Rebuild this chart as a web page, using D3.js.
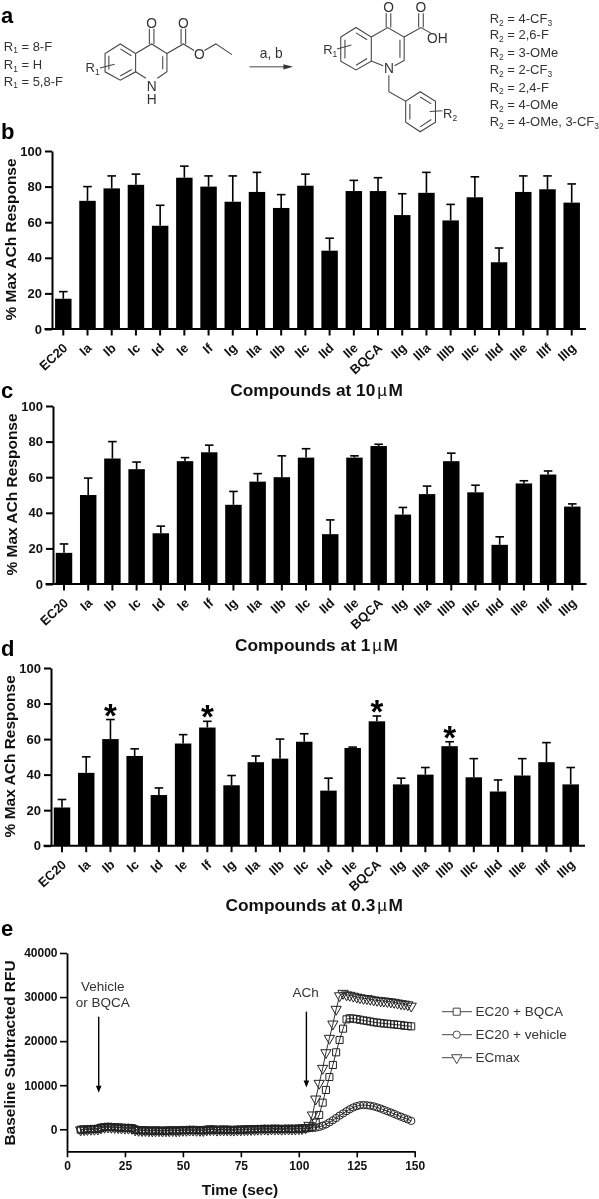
<!DOCTYPE html>
<html><head><meta charset="utf-8">
<script src="https://cdn.jsdelivr.net/npm/d3@7"></script>
<style>
html,body{margin:0;padding:0;background:#fff}
svg{display:block;filter:blur(0.35px)}
text{font-family:"Liberation Sans",Arial,sans-serif}
</style></head><body>
<svg id="c" width="599" height="1199"></svg>
<script>
const categories=["EC20","Ia","Ib","Ic","Id","Ie","If","Ig","IIa","IIb","IIc","IId","IIe","BQCA","IIg","IIIa","IIIb","IIIc","IIId","IIIe","IIIf","IIIg"];
const yTicks=[0,20,40,60,80,100];
const b10=[17,72,79,81,58,85,80,71.5,77,68,80.5,44,77.5,77.5,64,76.5,61,74,37.5,77,78.5,71];
const e10=[21,80,86,87,69.5,91.5,86,86,88,75.5,87,51,83.5,85,76,88,70,85.5,45.5,86,86,81.5];
const b1=[17.5,50,70.5,64.5,28.5,69,74,44.5,57.5,60,71,28,71,77.5,39,50.5,69,51.5,22,56.5,61.5,43.5];
const e1=[22.5,59.5,80,68.5,32.5,71,78,52,62,72,76,36,72,78.5,43,55,73.5,55.5,26.5,58,63.5,45];
const b03=[21.5,41,60,50.5,28.5,57.5,66.5,34,47,49,58.5,31,55,70,34.5,40,56,38.5,30.5,39.5,47,34.5];
const e03=[26,50,71,54.5,32.5,62.5,70,39.5,50.5,60,63,38,55.5,73,38,44,58.5,49,37,49,58,44];
const starred=["Ib","If","BQCA","IIIb"];

const timeSec=[5.9,7.4,8.8,10.3,11.8,13.3,14.7,16.2,17.7,19.1,
20.6,22.1,23.5,25,26.5,28,29.4,30.9,32.4,33.8,
35.3,36.8,38.2,39.7,41.2,42.7,44.1,45.6,47.1,48.5,
50,51.5,52.9,54.4,55.9,57.4,58.8,60.3,61.8,63.2,
64.7,66.2,67.6,69.1,70.6,72,73.5,75,76.5,77.9,
79.4,80.9,82.3,83.8,85.3,86.7,88.2,89.7,91.2,92.6,
94.1,95.6,97,98.5,100,101.4,102.9,104.4,105.9,107.3,
108.8,110.3,111.7,113.2,114.7,116.1,117.6,119.1,120.6,122,
123.5,125,126.4,127.9,129.4,130.8,132.3,133.8,135.3,136.7,
138.2,139.7,141.1,142.6,144.1,145.5,147,148.5];
const rfuBQCA=[-100,-50,0,50,50,100,350,500,550,500,
450,400,350,300,300,250,-100,-200,-250,-250,
-300,-300,-300,-300,-350,-300,-300,-250,-300,-250,
-200,-200,-150,-150,-200,-200,-250,-100,-50,-50,
-150,-100,-100,-100,-150,-150,-100,-100,-50,-50,
0,0,50,50,100,50,100,100,100,50,
100,100,100,100,150,150,200,300,600,1500,
3250,6040,8920,11860,14590,17460,20260,22830,24950,25200,
25100,25000,24850,24700,24600,24450,24300,24200,24100,24000,
23950,23850,23800,23700,23650,23500,23450,23350];
const rfuVehicle=[-50,0,50,100,100,150,400,550,600,550,
500,450,400,350,350,300,-50,-150,-200,-200,
-250,-250,-250,-250,-300,-250,-250,-200,-250,-200,
-150,-150,-100,-100,-150,-150,-200,-50,0,0,
-100,-50,-50,-50,-100,-100,-50,-50,0,0,
50,50,100,100,150,100,150,150,150,100,
150,150,150,150,200,200,250,250,300,350,
500,800,1100,1550,2050,2550,3100,3600,4100,4550,
4950,5250,5450,5500,5450,5350,5200,4950,4700,4400,
4100,3800,3500,3150,2850,2550,2250,1900];
const rfuECmax=[-150,-100,-50,0,0,50,300,450,500,450,
400,350,300,250,250,200,-150,-250,-300,-300,
-350,-350,-350,-350,-400,-350,-350,-300,-350,-300,
-250,-250,-200,-200,-250,-250,-300,-150,-100,-100,
-200,-150,-150,-150,-200,-200,-150,-150,-100,-100,
-50,-50,0,0,50,0,50,50,50,0,
50,50,50,50,100,150,300,900,3250,6870,
10430,13830,17380,20640,23890,27220,30300,30850,30500,30400,
30200,30000,29850,29700,29650,29500,29350,29250,29150,29100,
29000,28900,28800,28650,28500,28400,28250,27950];
const eXTicks=[0,25,50,75,100,125,150];
const eYTicks=[0,10000,20000,30000,40000];
const legendNames=["EC20 + BQCA","EC20 + vehicle","ECmax"];

const svg=d3.select("#c");
const INK="#111", GREY="#333";

function panelLetter(t,x,y){svg.append("text").attr("x",x).attr("y",y).attr("font-size",22).attr("font-weight","bold").attr("fill","#000").text(t);}
panelLetter("a",1,23);panelLetter("b",1,139);panelLetter("c",1,398);panelLetter("d",1,656);panelLetter("e",1,936);

function barPanel(o){
  const g=svg.append("g");
  const step=(o.cxN-o.cx0)/(categories.length-1);
  const x=d3.scaleBand().domain(categories).range([o.cx0-step/2,o.cxN+step/2]).paddingInner(0.32).paddingOuter(0.16);
  const y=d3.scaleLinear().domain([0,100]).range([o.y0,o.y100]);
  const vals=categories.map((c,i)=>({c,v:o.bars[i],e:o.errs[i]}));
  const cx=d=>x(d.c)+x.bandwidth()/2;
  g.selectAll("line.eb").data(vals).join("line").attr("x1",cx).attr("x2",cx).attr("y1",d=>y(d.v)).attr("y2",d=>y(d.e)).attr("stroke","#000").attr("stroke-width",1.6);
  g.selectAll("line.cap").data(vals).join("line").attr("class","cap").attr("x1",d=>cx(d)-4.3).attr("x2",d=>cx(d)+4.3).attr("y1",d=>y(d.e)).attr("y2",d=>y(d.e)).attr("stroke","#000").attr("stroke-width",1.6);
  g.selectAll("rect").data(vals).join("rect").attr("x",d=>x(d.c)).attr("width",x.bandwidth()).attr("y",d=>y(d.v)).attr("height",d=>o.y0-y(d.v)).attr("fill","#000");
  const ax=g.append("g").attr("transform",`translate(0,${o.y0})`).call(d3.axisBottom(x).tickSize(6.5).tickPadding(4));
  ax.select(".domain").attr("d",`M${o.ax-7.5},0H${o.xEnd}`).attr("stroke","#000").attr("stroke-width",2);
  ax.selectAll(".tick line").attr("stroke","#000").attr("stroke-width",2);
  ax.selectAll(".tick text").attr("font-family","Liberation Sans").attr("font-size",13).attr("font-weight","bold").attr("fill",INK)
    .attr("text-anchor","end").attr("dy",0).attr("y",0).attr("transform","translate(5,20) rotate(-43)");
  const ay=g.append("g").attr("transform",`translate(${o.ax},0)`).call(d3.axisLeft(y).tickValues(yTicks).tickSize(7).tickPadding(3).tickSizeOuter(0));
  ay.select(".domain").attr("stroke","#000").attr("stroke-width",2);
  ay.selectAll(".tick line").attr("stroke","#000").attr("stroke-width",2);
  ay.selectAll(".tick text").attr("font-family","Liberation Sans").attr("font-size",13).attr("font-weight","bold").attr("fill",INK);
  g.append("text").attr("transform",`translate(${o.ax-36},${(o.y0+o.y100)/2-0.5}) rotate(-90)`).attr("text-anchor","middle").attr("font-size",15.5).attr("font-weight","bold").attr("fill",INK).text("% Max ACh Response");
  if(o.stars){
    g.selectAll("text.star").data(vals.filter(d=>starred.includes(d.c))).join("text").attr("class","star")
      .attr("x",cx).attr("y",d=>y(d.e)+7).attr("text-anchor","middle").attr("font-size",33).attr("font-weight","bold").attr("fill","#000").text("*");
  }
  const t=svg.append("text").attr("x",o.titleEnd).attr("y",o.titleY).attr("text-anchor","end").attr("font-size",17.3).attr("font-weight","bold").attr("fill",INK);
  t.append("tspan").text("Compounds at "+o.conc);
  t.append("tspan").attr("dx",2).attr("font-weight","normal").attr("font-size",17).text("µ");
  t.append("tspan").attr("dx",1.5).text("M");
}
barPanel({bars:b10,errs:e10,cx0:63.3,cxN:571.7,y0:329,y100:151,ax:52,xEnd:586,conc:"10",titleEnd:403,titleY:396});
barPanel({bars:b1,errs:e1,cx0:64,cxN:572.3,y0:584,y100:406,ax:53,xEnd:586.5,conc:"1",titleEnd:398,titleY:651});
barPanel({bars:b03,errs:e03,cx0:62,cxN:570.7,y0:845.7,y100:668,ax:51,xEnd:585,conc:"0.3",titleEnd:403,titleY:911,stars:true});

// panel e
const ex=d3.scaleLinear().domain([0,150]).range([67,414.7]);
const ey=d3.scaleLinear().domain([-5000,40000]).range([1151.3,953]);
const eg=svg.append("g");
const axE=eg.append("g").attr("transform","translate(0,1151.3)").call(d3.axisBottom(ex).tickValues(eXTicks).tickFormat(d3.format("d")).tickSize(6).tickPadding(4).tickSizeOuter(0));
const ayE=eg.append("g").attr("transform","translate(67,0)").call(d3.axisLeft(ey).tickValues(eYTicks).tickFormat(d3.format("d")).tickSize(7).tickPadding(2.5).tickSizeOuter(0));
[axE,ayE].forEach(a=>{a.select(".domain").attr("stroke","#000").attr("stroke-width",1.8);
  a.selectAll(".tick line").attr("stroke","#000").attr("stroke-width",1.6);
  a.selectAll(".tick text").attr("font-family","Liberation Sans").attr("font-size",12).attr("font-weight","bold").attr("fill",INK);});
eg.append("text").attr("transform","translate(14.5,1053) rotate(-90)").attr("text-anchor","middle").attr("font-size",15.5).attr("font-weight","bold").attr("fill",INK).text("Baseline Subtracted RFU");
eg.append("text").attr("x",240).attr("y",1195).attr("text-anchor","middle").attr("font-size",15.5).attr("font-weight","bold").attr("fill",INK).text("Time (sec)");

const symSquare=d3.symbol().type(d3.symbolSquare).size(50)();
const symCircle=d3.symbol().type(d3.symbolCircle).size(42)();
const symTri=d3.symbol().type(d3.symbolTriangle).size(46)();
const series=[
 {name:legendNames[0],vals:rfuBQCA,sym:symSquare,rot:0},
 {name:legendNames[1],vals:rfuVehicle,sym:symCircle,rot:0},
 {name:legendNames[2],vals:rfuECmax,sym:symTri,rot:180}];
const line=d3.line().x(d=>ex(d[0])).y(d=>ey(d[1]));
series.forEach((s,si)=>{
  const pts=timeSec.map((t,i)=>[t,s.vals[i]]);
  const g=eg.append("g");
  g.append("path").attr("d",line(pts)).attr("fill","none").attr("stroke",GREY).attr("stroke-width",1);
  g.selectAll("path.m").data(pts).join("path").attr("class","m").attr("d",s.sym)
   .attr("transform",d=>`translate(${ex(d[0])},${ey(d[1])}) rotate(${s.rot})`)
   .attr("fill","none").attr("stroke","#222").attr("stroke-width",1);
  const ly=1011.7+si*23;
  const lg=eg.append("g").attr("transform",`translate(0,${ly})`);
  lg.append("line").attr("x1",442).attr("x2",472).attr("stroke",GREY).attr("stroke-width",0.9);
  lg.append("path").attr("d",s.sym).attr("transform",`translate(456.7,0) rotate(${s.rot})`).attr("fill","#fff").attr("stroke",GREY).attr("stroke-width",0.9);
  lg.append("text").attr("x",475.5).attr("y",4.7).attr("font-size",13.5).attr("fill",GREY).text(s.name);
});
function arrow(x,y1,y2){
  eg.append("line").attr("x1",x).attr("x2",x).attr("y1",y1).attr("y2",y2-5).attr("stroke","#000").attr("stroke-width",1.4);
  eg.append("path").attr("d",`M${x-2.8},${y2-7}L${x+2.8},${y2-7}L${x},${y2}Z`).attr("fill","#000");
}
arrow(98.7,1016.7,1092.7);arrow(306.4,1011.7,1087.5);
[["Vehicle",102.7,990.5],["or BQCA",102.7,1006.5],["ACh",305.7,997]].forEach(([t,x,y])=>
  eg.append("text").attr("x",x).attr("y",y).attr("text-anchor","middle").attr("font-size",13.5).attr("fill",GREY).text(t));

// panel a: reaction scheme, drawn in zoom-crop units
const a=svg.append("g").attr("transform","scale(0.382)").attr("fill",GREY);
const bond=(d,w=2.8)=>a.append("path").attr("d",d).attr("fill","none").attr("stroke","#444").attr("stroke-width",w);
bond("M315,115L355,140L355,188L315,210L275,188L275,140Z");
bond("M315,128L344,146M345,182L315,199M285,182L285,146");
bond("M355,140L397,115L437,140L437,188L412,205M382,205L355,188");
bond("M426,147L426,181");
bond("M391,115V75M403,115V75");
bond("M437,140L480,115L508,132M535,132L565,115L607,143");
bond("M474,115V75M486,115V75");
bond("M262,178L300,168");
bond("M653,175H745",2.6);
a.append("path").attr("d","M767,175L742,168V182Z").attr("fill","#333");
bond("M932,72L972,97L972,160L932,183L892,160L892,97Z");
bond("M932,86L961,104M961,153L932,171M903,153L903,104");
bond("M972,97L1015,72L1058,97L1058,158L1033,172M1003,172L972,160");
bond("M1047,104L1047,151");
bond("M1011,72V35M1023,72V35");
bond("M1058,97L1102,72L1130,88");
bond("M1096,72V35M1108,72V35");
bond("M1018,197V240L1062,265L1100,240L1140,265L1140,320L1100,345L1062,320L1062,265");
bond("M1100,254L1129,272M1129,313L1100,332M1073,313L1073,272");
bond("M1125,292L1158,290");
bond("M882,128L920,118");
const atom=(t,x,y,anchor="middle")=>a.append("text").attr("x",x).attr("y",y).attr("text-anchor",anchor).attr("font-size",36).text(t);
atom("O",397,72);atom("O",480,72);atom("O",522,155);atom("N",397,238);atom("H",397,272);
atom("O",1017,32);atom("O",1102,32);atom("OH",1145,112);atom("N",1018,192);
atom("a, b",710,153);
function rlabel(x,y,n,rest){
  const t=a.append("text").attr("x",x).attr("y",y).attr("font-size",34);
  t.append("tspan").text("R");
  t.append("tspan").attr("font-size",22).attr("dy",7).text(n);
  t.append("tspan").attr("dy",-7).text(rest);
  return t;
}
rlabel(224,189,"1","");rlabel(846,141,"1","");rlabel(1160,309,"2","");
const r1List=["= 8-F","= H","= 5,8-F"];
const r1Y=[133,181,224];
r1List.forEach((s,i)=>rlabel(10,r1Y[i],"1"," "+s));
const r2List=["= 4-CF","= 2,6-F","= 3-OMe","= 2-CF","= 2,4-F","= 4-OMe","= 4-OMe, 3-CF"];
const r2Sub=["3","","","3","","","3"];
const r2Y=[60,103,149,195,240,285,331];
r2List.forEach((s,i)=>{const t=rlabel(1282,r2Y[i],"2"," "+s);
  if(r2Sub[i])t.append("tspan").attr("font-size",22).attr("dy",7).text(r2Sub[i]);});
</script>
</body></html>
